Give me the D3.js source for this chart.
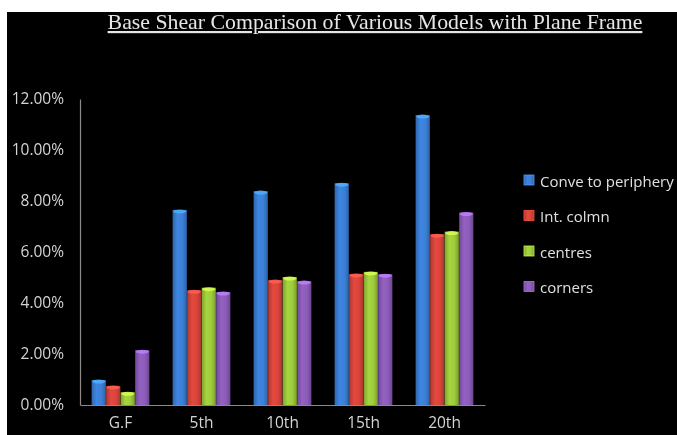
<!DOCTYPE html>
<html>
<head>
<meta charset="utf-8">
<script src="https://cdn.jsdelivr.net/npm/d3@7"></script>
<style>
  html, body { margin: 0; padding: 0; background: #ffffff; }
  svg { display: block; }
</style>
</head>
<body>
<svg id="chart" width="677" height="435"></svg>
<script>
// Floor levels along the x axis
const categories = ["G.F", "5th", "10th", "15th", "20th"];
// Series names shown in the legend
const seriesNames = ["Conve to periphery", "Int. colmn", "centres", "corners"];
// Base shear share (%) per series, one value per floor level
const convePeriphery = [0.98, 7.65, 8.39, 8.70, 11.37];
const intColmn       = [0.75, 4.50, 4.90, 5.14, 6.70];
const centres        = [0.50, 4.60, 5.02, 5.22, 6.80];
const corners        = [2.15, 4.43, 4.86, 5.13, 7.55];
// Y axis ticks (%)
const yTicks = [0, 2, 4, 6, 8, 10, 12];
const seriesColors = ["#3b7fd6", "#d9443b", "#9dcb3b", "#8b5cb9"];

const seriesValues = [convePeriphery, intColmn, centres, corners];

const svg = d3.select("#chart");
const W = 677, H = 435;

// dark panel with a thin light margin on the top and left
svg.append("rect").attr("x", 0).attr("y", 0).attr("width", W).attr("height", H).attr("fill", "#ffffff");
svg.append("rect").attr("x", 7).attr("y", 12).attr("width", W - 7).attr("height", H - 12).attr("fill", "#000000");

const plot = { left: 80, right: 485, top: 99, bottom: 405 };

const x = d3.scaleBand().domain(categories).range([plot.left, plot.right]).paddingInner(0.28).paddingOuter(0.14);
const xs = d3.scaleBand().domain(d3.range(seriesNames.length)).range([0, x.bandwidth()]).padding(0.02);
const y = d3.scaleLinear().domain([0, 12]).range([plot.bottom, plot.top]);

// gradients giving each bar a rounded, cylinder-like shading
const defs = svg.append("defs");
seriesColors.forEach((c, i) => {
  const g = defs.append("linearGradient").attr("id", "grad" + i)
    .attr("x1", "0%").attr("x2", "100%").attr("y1", "0%").attr("y2", "0%");
  const base = d3.color(c);
  g.append("stop").attr("offset", "0%").attr("stop-color", base.darker(0.6));
  g.append("stop").attr("offset", "35%").attr("stop-color", base.brighter(0.15));
  g.append("stop").attr("offset", "70%").attr("stop-color", base);
  g.append("stop").attr("offset", "100%").attr("stop-color", base.darker(0.7));
});
const blur = defs.append("filter").attr("id", "soft").attr("x", "-20%").attr("y", "-20%").attr("width", "140%").attr("height", "140%");
blur.append("feGaussianBlur").attr("stdDeviation", 0.6);

// Title
svg.append("text")
  .attr("x", 375).attr("y", 29)
  .attr("text-anchor", "middle")
  .attr("font-family", "'Liberation Serif', 'DejaVu Serif', serif")
  .attr("font-size", 21.8)
  .attr("fill", "#e6e6e6")
  .attr("text-decoration", "underline")
  .attr("filter", "url(#soft)")
  .text("Base Shear Comparison of Various Models with Plane Frame");

// Axes
const yAxis = d3.axisLeft(y).tickValues(yTicks).tickSize(0).tickPadding(16)
  .tickFormat(d => d.toFixed(2) + "%");
const gy = svg.append("g").attr("transform", `translate(${plot.left},0)`).call(yAxis);
gy.select(".domain").attr("stroke", "#8a8a8a").attr("stroke-width", 1.2);
gy.selectAll("text")
  .attr("fill", "#d4d4d4")
  .attr("font-family", "'Open Sans', 'DejaVu Sans', sans-serif")
  .attr("font-size", 15.5)
  .attr("filter", "url(#soft)");

const xAxis = d3.axisBottom(x).tickSize(0).tickPadding(12);
const gx = svg.append("g").attr("transform", `translate(0,${plot.bottom})`).call(xAxis);
gx.select(".domain").attr("stroke", "#8a8a8a").attr("stroke-width", 1.2);
gx.selectAll("text")
  .attr("fill", "#d4d4d4")
  .attr("font-family", "'Open Sans', 'DejaVu Sans', sans-serif")
  .attr("font-size", 15.5)
  .attr("filter", "url(#soft)");

// Bars
const groups = svg.append("g").selectAll("g")
  .data(categories)
  .join("g")
  .attr("transform", d => `translate(${x(d)},0)`);

groups.each(function (cat, ci) {
  const g = d3.select(this);
  seriesValues.forEach((vals, si) => {
    const v = vals[ci];
    const bx = xs(si), bw = xs.bandwidth();
    g.append("rect")
      .attr("x", bx).attr("y", y(v))
      .attr("width", bw).attr("height", y(0) - y(v))
      .attr("fill", `url(#grad${si})`)
      .attr("filter", "url(#soft)");
    // lighter top cap
    g.append("ellipse")
      .attr("cx", bx + bw / 2).attr("cy", y(v) + 1.5)
      .attr("rx", bw / 2 - 0.5).attr("ry", 2)
      .attr("fill", d3.color(seriesColors[si]).brighter(0.9))
      .attr("opacity", 0.85)
      .attr("filter", "url(#soft)");
  });
});

// Legend
const legend = svg.append("g").attr("transform", "translate(524,0)");
seriesNames.forEach((name, i) => {
  const ly = 181 + i * 35.5;
  legend.append("rect")
    .attr("x", 0).attr("y", ly - 6).attr("width", 10).attr("height", 10)
    .attr("fill", `url(#grad${i})`)
    .attr("stroke", d3.color(seriesColors[i]).brighter(0.6))
    .attr("stroke-width", 0.8)
    .attr("filter", "url(#soft)");
  legend.append("text")
    .attr("x", 16).attr("y", ly + 5.5)
    .attr("fill", "#e0e0e0")
    .attr("font-family", "'Open Sans', 'DejaVu Sans', sans-serif")
    .attr("font-size", 15)
    .attr("filter", "url(#soft)")
    .text(name);
});
</script>
</body>
</html>
